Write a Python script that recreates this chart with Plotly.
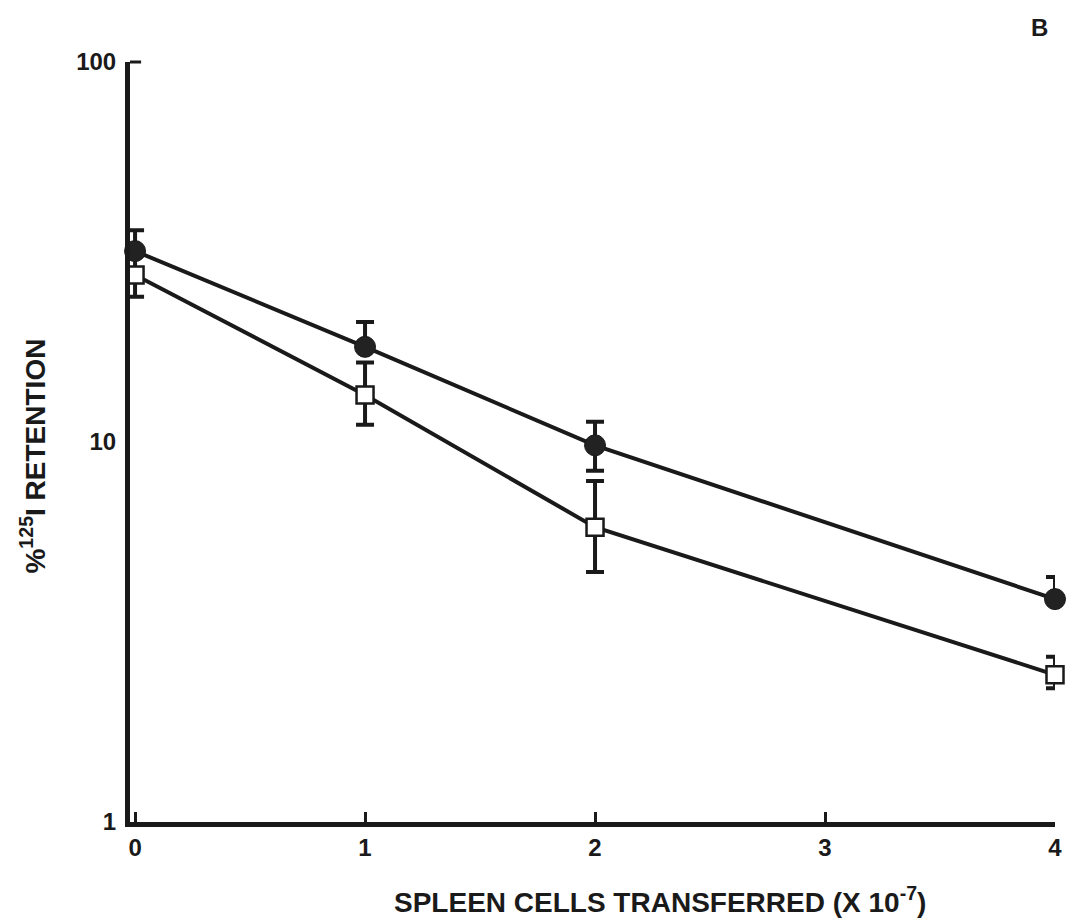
import plotly.graph_objects as go

cells = [0, 1, 2, 4]
filled_mean = [31.8, 17.8, 9.8, 3.86]
filled_upper = [36.1, 20.7, 11.3, 4.41]
filled_lower = [31.8, 17.8, 8.4, 3.86]
open_mean = [27.5, 13.3, 5.97, 2.44]
open_upper = [31.0, 16.2, 7.9, 2.72]
open_lower = [24.1, 11.1, 4.55, 2.25]

x_ticks = [0, 1, 2, 3, 4]
x_ticktext = ["0", "1", "2", "3", "4"]
y_ticks = [1, 10, 100]
y_ticktext = ["1", "10", "100"]

FONT = "Liberation Sans"

def err(mean, up, lo):
    return dict(type="data", symmetric=False,
                array=[u - m for u, m in zip(up, mean)],
                arrayminus=[m - l for m, l in zip(mean, lo)],
                color="#1a1a1a", thickness=4, width=9)

fig = go.Figure()
fig.add_trace(go.Scatter(
    x=cells, y=open_mean, mode="lines+markers",
    line=dict(color="#1a1a1a", width=4),
    marker=dict(symbol="square", size=17, color="white", line=dict(color="#1a1a1a", width=2.5)),
    error_y=err(open_mean, open_upper, open_lower),
    cliponaxis=False, showlegend=False))
fig.add_trace(go.Scatter(
    x=cells, y=filled_mean, mode="lines+markers",
    line=dict(color="#1a1a1a", width=4),
    marker=dict(symbol="circle", size=21, color="#222", line=dict(color="#1a1a1a", width=1)),
    error_y=err(filled_mean, filled_upper, filled_lower),
    cliponaxis=False, showlegend=False))

fig.update_layout(
    width=1070, height=922,
    margin=dict(l=130, r=8, t=62, b=100),
    paper_bgcolor="white", plot_bgcolor="white",
    font=dict(family=FONT, color="#1a1a1a"),
    xaxis=dict(range=[-0.022, 4.0], showgrid=False, zeroline=False,
               showline=True, linewidth=5, linecolor="#1a1a1a",
               tickvals=x_ticks, ticktext=["<b>%s</b>" % t for t in x_ticktext],
               ticks="inside", ticklen=10, tickwidth=3, tickcolor="#1a1a1a",
               tickfont=dict(size=24, family=FONT), ticklabelstandoff=0),
    yaxis=dict(type="log", range=[0, 2], showgrid=False, zeroline=False,
               showline=True, linewidth=5, linecolor="#1a1a1a",
               tickvals=y_ticks, ticktext=["<b>%s</b>" % t for t in y_ticktext],
               ticks="", tickfont=dict(size=24, family=FONT), ticklabelstandoff=4),
    annotations=[
        dict(text="<b>SPLEEN CELLS TRANSFERRED (X 10<sup>-7</sup>)</b>",
             xref="paper", yref="paper", x=0.573, y=-0.103, xanchor="center", yanchor="middle",
             showarrow=False, font=dict(size=28, family=FONT)),
        dict(text="<b>%<sup>125</sup>I RETENTION</b>", textangle=-90,
             xref="paper", yref="paper", x=-0.105, y=0.482, xanchor="center", yanchor="middle",
             showarrow=False, font=dict(size=28, family=FONT)),
        dict(text="<b>B</b>", xref="paper", yref="paper", x=0.983, y=1.045,
             xanchor="center", yanchor="middle", showarrow=False,
             font=dict(size=24, family=FONT)),
    ],
)
fig.add_shape(type="line", xref="paper", yref="paper", x0=0, x1=0.012, y0=1, y1=1,
              line=dict(color="#1a1a1a", width=3))

fig.write_html("out.html")
